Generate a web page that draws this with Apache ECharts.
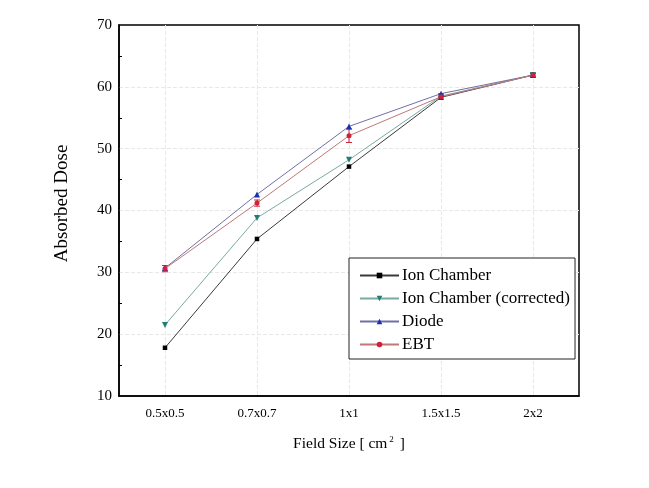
<!DOCTYPE html>
<html>
<head>
<meta charset="utf-8">
<script src="https://cdn.jsdelivr.net/npm/echarts@6/dist/echarts.min.js"></script>
<style>html,body{margin:0;padding:0;background:#fff}#c{width:649px;height:488px}</style>
</head>
<body>
<div id="c"></div>
<script>
const categories = ['0.5x0.5', '0.7x0.7', '1x1', '1.5x1.5', '2x2'];
const ionChamber = [17.8, 35.4, 47.1, 58.3, 61.9];
const ionCorrected = [21.5, 38.8, 48.2, 58.5, 61.9];
const diode = [30.7, 42.6, 53.6, 58.9, 61.9];
const ebt = [30.6, 41.2, 52.1, 58.4, 61.9];
const ebtError = [0.5, 0.5, 1.1, 0.4, 0.3];
const yTicks = [10, 20, 30, 40, 50, 60, 70];

const font = 'Liberation Serif';
const chart = echarts.init(document.getElementById('c'));
chart.setOption({
  animation: false,
  backgroundColor: '#fff',
  grid: { left: 119, right: 70, top: 25, bottom: 92, show: true, borderColor: '#000', borderWidth: 1.5, containLabel: false },
  legend: {
    orient: 'vertical', left: 349, top: 258,
    padding: [9, 5, 6, 10],
    backgroundColor: '#fff', borderColor: '#222', borderWidth: 1,
    itemWidth: 39, itemHeight: 7, itemGap: 6,
    textStyle: { fontFamily: font, fontSize: 17, color: '#000', padding: [0, 0, 0, -2] },
    data: ['Ion Chamber', 'Ion Chamber (corrected)', 'Diode', 'EBT']
  },
  xAxis: {
    type: 'category', data: categories, boundaryGap: true,
    name: 'Field Size [ cm{sup|2} ]', nameLocation: 'middle', nameGap: 39,
    nameTextStyle: { fontFamily: font, fontSize: 15.5, color: '#000',
      rich: { sup: { fontFamily: font, fontSize: 9, verticalAlign: 'top', padding: [0, 2, 8, 2], color: '#000' } } },
    axisLine: { lineStyle: { color: '#000', width: 1.5 } },
    axisTick: { inside: true, alignWithLabel: true, length: 5, lineStyle: { color: '#000' } },
    axisLabel: { fontFamily: font, fontSize: 13, color: '#000', margin: 11 },
    splitLine: { show: true, alignWithLabel: true, lineStyle: { color: '#e8e8e8', type: 'dashed', width: 1 } }
  },
  yAxis: {
    type: 'value', min: yTicks[0], max: yTicks[yTicks.length - 1], interval: 10,
    name: 'Absorbed Dose', nameLocation: 'middle', nameGap: 47,
    nameTextStyle: { fontFamily: font, fontSize: 19, color: '#000', padding: [0, 0, 0, 14] },
    axisLine: { show: true, lineStyle: { color: '#000', width: 1.5 } },
    axisTick: { inside: true, length: 5, lineStyle: { color: '#000' } },
    minorTick: { show: true, splitNumber: 2, length: 3, lineStyle: { color: '#000' } },
    axisLabel: { fontFamily: font, fontSize: 15, color: '#000', margin: 7 },
    splitLine: { show: true, showMinLine: false, showMaxLine: false, lineStyle: { color: '#e8e8e8', type: 'dashed', width: 1 } }
  },
  series: [
    { name: 'Ion Chamber', type: 'line', data: ionChamber, symbol: 'rect', symbolSize: 4.5,
      itemStyle: { color: '#000' }, lineStyle: { color: '#3a3a3a', width: 1 } },
    { name: 'Ion Chamber (corrected)', type: 'line', data: ionCorrected, symbol: 'triangle', symbolRotate: 180, symbolSize: 6,
      itemStyle: { color: '#1f7f72' }, lineStyle: { color: '#78aaa4', width: 1 } },
    { name: 'Diode', type: 'line', data: diode, symbol: 'triangle', symbolSize: 6,
      itemStyle: { color: '#1a2fb8' }, lineStyle: { color: '#7070a8', width: 1 } },
    { name: 'EBT', type: 'line', data: ebt, symbol: 'circle', symbolSize: 5,
      itemStyle: { color: '#d0203a' }, lineStyle: { color: '#c07878', width: 1 } },
    { name: 'EBT error', type: 'custom', z: 3,
      data: ebt.map((v, i) => [i, v - ebtError[i], v + ebtError[i]]),
      renderItem: function (params, api) {
        const lo = api.coord([api.value(0), api.value(1)]);
        const hi = api.coord([api.value(0), api.value(2)]);
        const w = 3;
        const st = { stroke: '#d0203a', lineWidth: 1 };
        return { type: 'group', children: [
          { type: 'line', shape: { x1: lo[0], y1: lo[1], x2: hi[0], y2: hi[1] }, style: st },
          { type: 'line', shape: { x1: lo[0] - w, y1: lo[1], x2: lo[0] + w, y2: lo[1] }, style: st },
          { type: 'line', shape: { x1: hi[0] - w, y1: hi[1], x2: hi[0] + w, y2: hi[1] }, style: st }
        ] };
      }
    }
  ]
});
</script>
</body>
</html>
